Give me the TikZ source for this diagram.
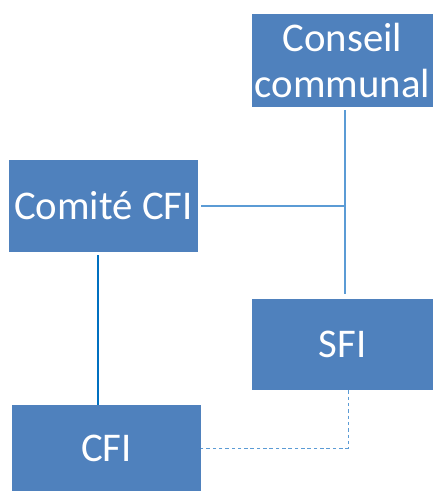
\documentclass[tikz,border=0pt]{standalone}
\usepackage{fontspec}
\setmainfont{Carlito}
\usetikzlibrary{positioning}

\definecolor{boxblue}{HTML}{4F81BD}
\definecolor{lineblue}{HTML}{5B9BD5}
\definecolor{darkblue}{HTML}{0070C0}

\begin{document}
\begin{tikzpicture}[
    box/.style={rectangle, fill=boxblue, text=white, align=center,
                minimum width=4.525cm, minimum height=2.3cm, inner sep=0pt,
                font=\fontsize{29}{33}\selectfont},
    link/.style={draw=lineblue, line width=1.6pt},
    mainlink/.style={draw=darkblue, line width=1.8pt},
    dottedlink/.style={draw=lineblue, line width=0.7pt, dash pattern=on 2.5pt off 2pt}
]

% canvas
\useasboundingbox (0,0) rectangle (10.9,12.275);

% ==================== BOXES ====================
\node[box, minimum height=2.325cm] (conseil) at (8.5625, 10.7625) {Conseil\\communal};
\node[box, minimum width=4.725cm] (comite) at (2.5875, 7.125) {Comité CFI};
\node[box, minimum height=2.275cm] (sfi) at (8.5625, 3.6625) {SFI};
\node[box, minimum width=4.725cm, minimum height=2.15cm] (cfi) at (2.6625, 1.075) {CFI};

% ==================== LINKS ====================
\coordinate (junction) at ([xshift=0.0625cm]conseil.south |- comite.east);
\coordinate (drop) at ([xshift=-0.1375cm]comite.south);

\draw[link, shorten <=2pt, shorten >=3pt] ([xshift=0.0625cm]conseil.south) -- ([xshift=0.0625cm]sfi.north);
\draw[link, shorten <=2pt] (comite.east) -- (junction);
\draw[mainlink, shorten <=2pt] (drop) -- (drop |- cfi.north);
\draw[dottedlink] ([xshift=0.14cm]sfi.south) |- (cfi.east);

\end{tikzpicture}
\end{document}
